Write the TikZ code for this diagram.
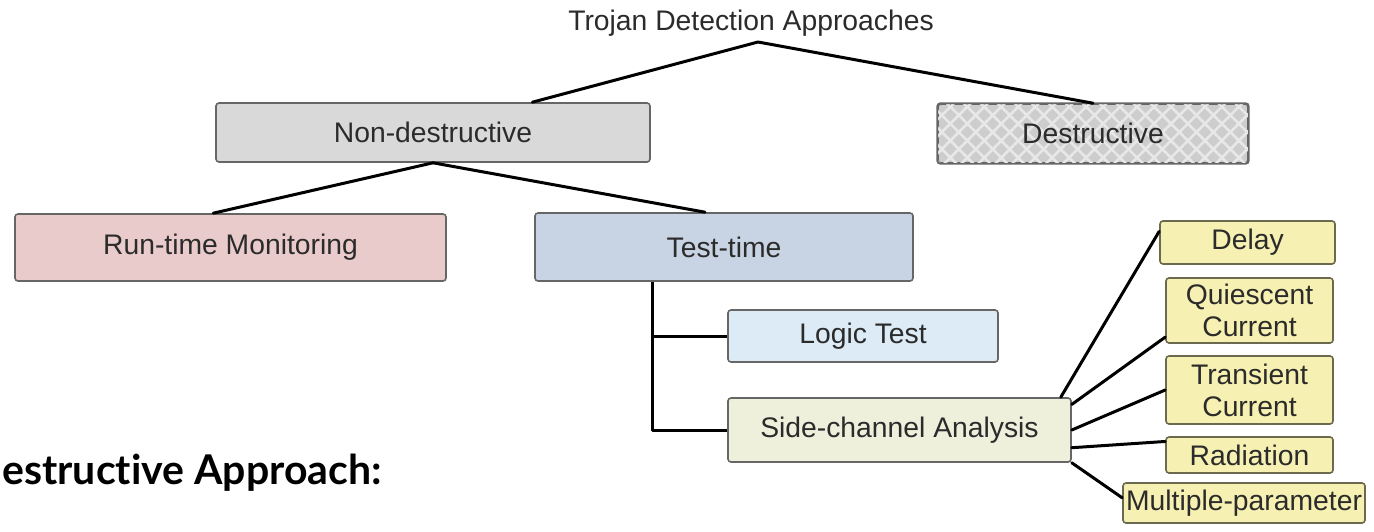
\documentclass[tikz,border=0pt]{standalone}
\usepackage{fontspec}
\setmainfont{Liberation Sans}
\newfontfamily\headfont[Ligatures=NoCommon]{Lato}
\usetikzlibrary{calc,patterns.meta}

\definecolor{txt}{HTML}{2B2B2B}
\definecolor{edge}{HTML}{666666}
\definecolor{grayfill}{HTML}{D9D9D9}
\definecolor{hatchbase}{HTML}{CDCDCD}
\definecolor{hatchline}{HTML}{E8E8E8}
\definecolor{pinkfill}{HTML}{EACBCB}
\definecolor{bluegray}{HTML}{C8D3E3}
\definecolor{lightblue}{HTML}{DCEBF6}
\definecolor{palegreen}{HTML}{EEF0DC}
\definecolor{yellowfill}{HTML}{F6F0B2}
\definecolor{leafedge}{HTML}{6B6A4E}

\tikzset{
  label text/.style={text=txt, font=\fontsize{28.3}{32}\selectfont},
  box/.style={draw=edge, line width=1.6pt, rounded corners=3pt,
    label text, inner sep=0pt, align=center},
  leaf/.style={box, fill=yellowfill, draw=leafedge},
  link/.style={draw=black, line width=3pt, line cap=round, line join=round},
}

\begin{document}
\begin{tikzpicture}[x=1pt, y=-1pt]
\useasboundingbox (0,0) rectangle (1374,531);

% root label
\node[label text] (root) at (751,23) {Trojan Detection Approaches};
\coordinate (apex) at (758,42);

% first level
\node[box, fill=grayfill, minimum width=434pt, minimum height=59pt] (nd) at (433,132.5) {Non-destructive};
\node[box, fill=hatchbase, minimum width=310pt, minimum height=59pt,
  postaction={pattern={Lines[angle=45,distance=12pt,line width=2.6pt]}, pattern color=hatchline},
  postaction={pattern={Lines[angle=-45,distance=12pt,line width=2.6pt]}, pattern color=hatchline}]
  (dsh) at (1093,133.5) {};
\node[label text] (de) at (dsh.center) {Destructive};
\draw[draw=edge, line width=1.6pt, rounded corners=3pt] (dsh.north west) rectangle (dsh.south east);

% second level
\node[box, fill=pinkfill, minimum width=431pt, minimum height=67pt] (rt) at (230.5,247.5) {Run-time Monitoring};
\node[box, fill=bluegray, minimum width=378pt, minimum height=68pt] (tt) at (724,247) {Test-time};

% test-time branches
\node[box, fill=lightblue, minimum width=270pt, minimum height=52pt] (lt) at (863,336) {Logic Test};
\node[box, fill=palegreen, minimum width=343pt, minimum height=64pt] (sc) at (899.5,430) {Side-channel Analysis};

% side-channel parameters
\node[leaf, minimum width=175pt, minimum height=43pt] (delay) at (1247.5,242.5) {Delay};
\node[leaf, minimum width=167pt, minimum height=65pt] (qc) at (1249.5,310.5) {Quiescent\\Current};
\node[leaf, minimum width=167pt, minimum height=68pt] (tc) at (1249.5,390) {Transient\\Current};
\node[leaf, minimum width=167pt, minimum height=36pt] (rad) at (1249.5,455) {Radiation};
\node[leaf, minimum width=242pt, minimum height=40pt] (mp) at (1244,503) {Multiple-parameter};

% connectors
\draw[link] ($(nd.north west)!0.728!(nd.north east)$) -- (apex) -- (dsh.north);
\draw[link] (nd.south) -- ($(rt.north west)!0.46!(rt.north east)$);
\draw[link] (nd.south) -- ($(tt.north west)!0.45!(tt.north east)$);

\coordinate (trunk) at ($(tt.south west)!0.312!(tt.south east)$);
\draw[link, line cap=butt] (trunk) |- (sc.west);
\draw[link, line cap=butt] (trunk |- lt.west) -- (lt.west);

\draw[link] ($(sc.north west)!0.968!(sc.north east)$) -- ($(delay.north west)!0.25!(delay.south west)$);
\draw[link] ($(sc.north east)!0.11!(sc.south east)$) -- ($(qc.north west)!0.9!(qc.south west)$);
\draw[link] (sc.east) -- (tc.west);
\draw[link] ($(sc.north east)!0.77!(sc.south east)$) -- ($(rad.north west)!0.14!(rad.south west)$);
\draw[link] (sc.south east) -- ($(mp.north west)!0.375!(mp.south west)$);

% caption below the chart
\node[anchor=base east, inner sep=0pt, font=\headfont\bfseries\fontsize{41}{45}\selectfont, text=black] (cap) at (382,484) {estructive Approach:};
\end{tikzpicture}
\end{document}
